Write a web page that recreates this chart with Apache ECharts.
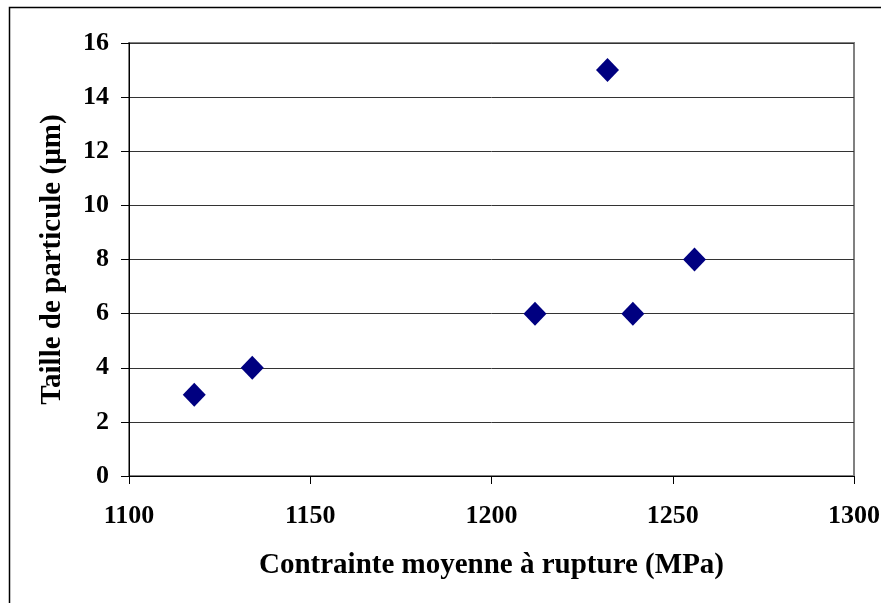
<!DOCTYPE html>
<html><head><meta charset="utf-8">
<script src="https://cdn.jsdelivr.net/npm/echarts@6/dist/echarts.min.js"></script>
<style>html,body{margin:0;padding:0;background:#fff}#c{width:881px;height:603px}</style>
</head><body><div id="c"></div>
<script>
const stress = [1118, 1134, 1212, 1232, 1239, 1256];
const size = [3, 4, 6, 15, 6, 8];
const xTitle = 'Contrainte moyenne à rupture (MPa)';
const yTitle = 'Taille de particule (µm)';
const font = '"Liberation Serif", "Times New Roman", serif';
const chart = echarts.init(document.getElementById('c'));
chart.setOption({
  animation: false,
  backgroundColor: '#fff',
  graphic: [{type: 'rect', shape: {x: 9.5, y: 7.5, width: 1000, height: 1000}, style: {fill: 'none', stroke: '#000', lineWidth: 1.5}, z: 100}],
  grid: {left: 129, top: 43, right: 27, bottom: 127, show: true, borderColor: '#808080', borderWidth: 2,
    outerBoundsMode: 'none', containLabel: false},
  xAxis: {
    type: 'value', min: 1100, max: 1300, interval: 50,
    name: xTitle, nameLocation: 'middle', nameGap: 75,
    nameTextStyle: {fontFamily: font, fontWeight: 'bold', fontSize: 29, color: '#000'},
    axisLine: {lineStyle: {color: '#000', width: 1}},
    axisTick: {show: true, inside: false, length: 8, lineStyle: {color: '#000'}},
    axisLabel: {fontFamily: font, fontWeight: 'bold', fontSize: 26, color: '#000', margin: 27,
      formatter: v => String(v)},
    splitLine: {show: false}
  },
  yAxis: {
    type: 'value', min: 0, max: 16, interval: 2,
    name: yTitle, nameLocation: 'middle', nameGap: 62, nameRotate: 90,
    nameTextStyle: {fontFamily: font, fontWeight: 'bold', fontSize: 29, color: '#000'},
    axisLine: {show: true, lineStyle: {color: '#000', width: 1}},
    axisTick: {show: true, inside: false, length: 8, lineStyle: {color: '#000'}},
    axisLabel: {fontFamily: font, fontWeight: 'bold', fontSize: 26, color: '#000', margin: 20},
    splitLine: {show: true, lineStyle: {color: '#333', width: 1}}
  },
  series: [{
    type: 'scatter',
    data: stress.map((x, i) => [x, size[i]]),
    symbol: 'diamond', symbolSize: [23, 24],
    itemStyle: {color: '#000080', opacity: 1}
  }]
});
</script></body></html>
